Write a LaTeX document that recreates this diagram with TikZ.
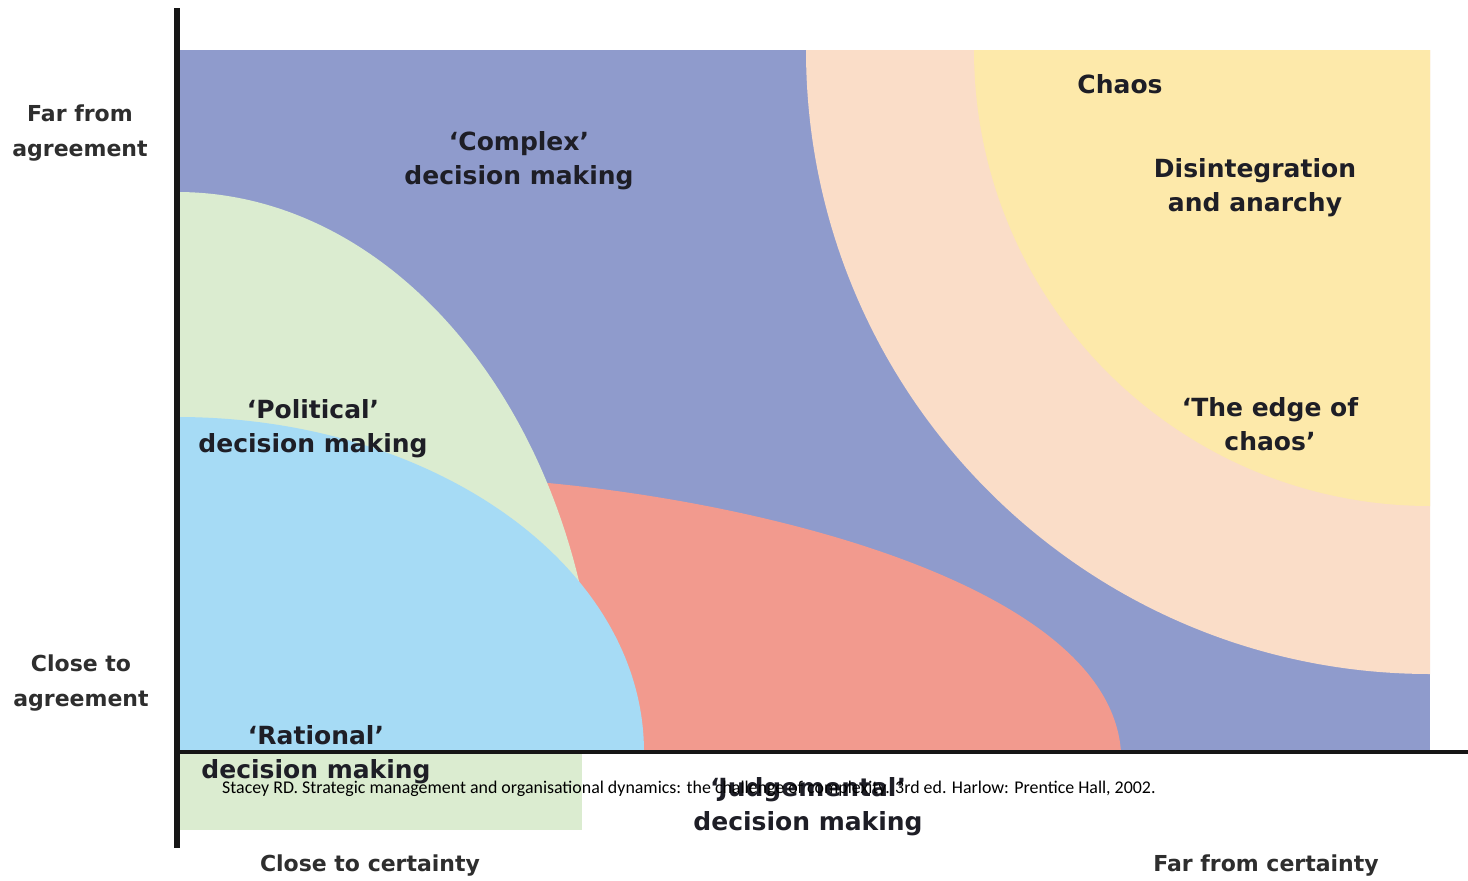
\documentclass[tikz,border=0pt]{standalone}
\usepackage{fontspec}
\setmainfont{DejaVu Sans}
\newfontfamily\citefont{Carlito}
\definecolor{bgblue}{HTML}{8F9BCC}
\definecolor{peach}{HTML}{FADDC8}
\definecolor{chaosyellow}{HTML}{FDE9AA}
\definecolor{salmon}{HTML}{F29A8E}
\definecolor{palegreen}{HTML}{DBECD0}
\definecolor{skyblue}{HTML}{A6DBF5}
\definecolor{labelcol}{HTML}{1E1E26}
\definecolor{axiscol}{HTML}{2E2E2E}
\definecolor{linecol}{HTML}{161616}
\begin{document}
\begin{tikzpicture}[x=1pt,y=-1pt,
  region/.style={font=\bfseries\fontsize{25}{34}\selectfont, text=labelcol, align=center, inner sep=0pt},
  axislab/.style={font=\bfseries\fontsize{22}{35}\selectfont, text=axiscol, align=center, inner sep=0pt},
  axisline/.style={draw=linecol}]
\useasboundingbox (0,0) rectangle (1468,881);
\fill[white] (0,0) rectangle (1468,881);
% green strip below the axis
\fill[palegreen] (177,752) rectangle (582,830);
\begin{scope}
  \clip (177,50) rectangle (1430,752);
  \fill[bgblue] (177,50) rectangle (1430,752);
  \fill[peach] (1430,50) circle [radius=624pt];
  \fill[chaosyellow] (1430,50) circle [radius=456pt];
  \fill[salmon] (470,752) -- (470,481) -- (548,483) .. controls (780,505) and (1110,590) .. (1121,752) -- cycle;
  \fill[palegreen] (177,752) ellipse [x radius=422pt, y radius=560pt];
  \fill[skyblue] (177,752) ellipse [x radius=467pt, y radius=335pt];
\end{scope}
% axes
\coordinate (ytop) at (177,8);
\coordinate (ybot) at (177,848);
\coordinate (xleft) at (174,752);
\coordinate (xright) at (1468,752);
\draw[axisline, line width=6pt] (ytop) -- (ybot);
\draw[axisline, line width=4pt] (xleft) -- (xright);
% axis labels
\node[axislab] (farag) at (80,133) {Far from\\agreement};
\node[axislab] (closeag) at (81,683) {Close to\\agreement};
\node[axislab] (closecert) at (370,866) {Close to certainty};
\node[axislab] (farcert) at (1266,866) {Far from certainty};
% region labels
\node[region] (complex) at (519,161) {‘Complex’\\decision making};
\node[region] (chaos) at (1120,84) {Chaos};
\node[region] (disint) at (1255,188) {Disintegration\\and anarchy};
\node[region] (political) at (313,429) {‘Political’\\decision making};
\node[region] (edge) at (1270,424) {‘The edge of\\chaos’};
\node[region] (rational) at (316,755) {‘Rational’\\decision making};
\node[region] (judge) at (808,807) {‘Judgemental’\\decision making};
% citation
\node[font=\citefont\fontsize{17.9}{21}\selectfont, text=black, anchor=base west, inner sep=0pt] (cite) at (222,793) {Stacey RD. Strategic management and organisational dynamics: the challenge of complexity. 3rd ed. Harlow: Prentice Hall, 2002.};
\end{tikzpicture}
\end{document}
